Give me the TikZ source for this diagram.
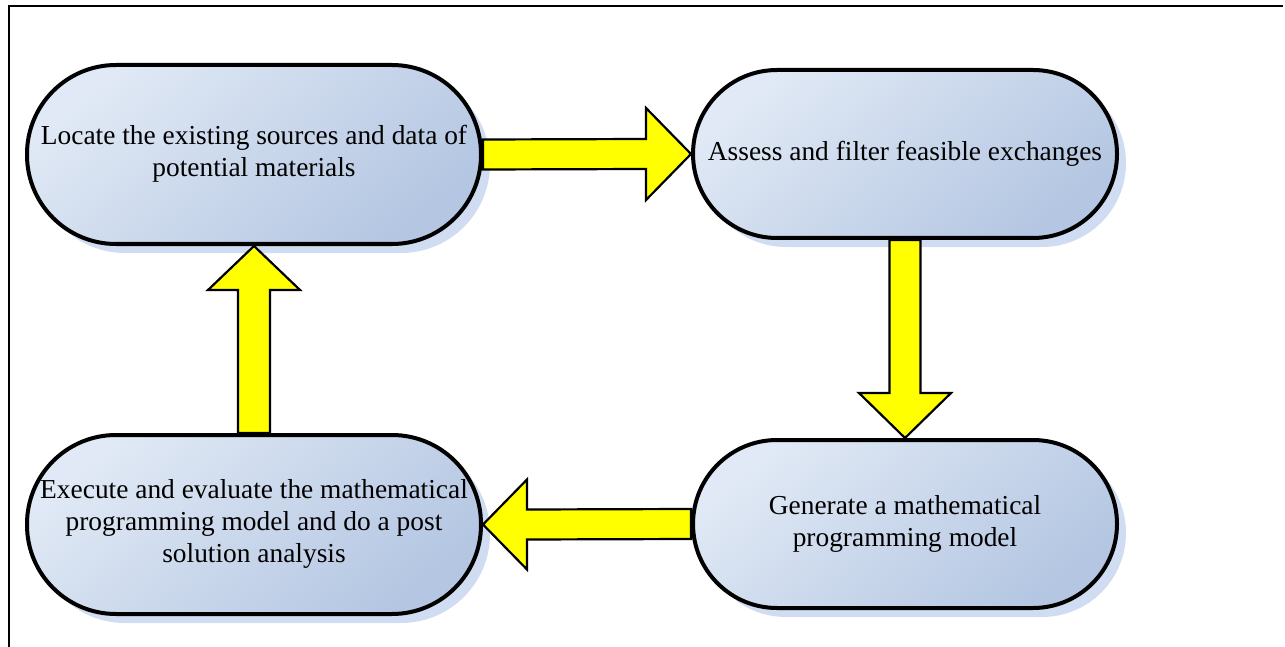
\documentclass[tikz,border=0pt]{standalone}
\usepackage{fontspec}
\setmainfont{Liberation Serif}
\usetikzlibrary{calc,shadows}
\definecolor{boxlight}{RGB}{224,233,245}
\definecolor{boxdark}{RGB}{180,198,226}
\definecolor{shadowblue}{RGB}{207,220,242}
\definecolor{arrowyellow}{RGB}{255,255,0}
\begin{document}
\begin{tikzpicture}[x=1pt,y=-1pt,
  stepbox/.style={rectangle, rounded corners=#1, draw=black, line width=4pt,
    top color=boxlight, bottom color=boxdark, shading angle=40,
    align=center, inner sep=0pt,
    font=\fontsize{27.4}{32}\selectfont,
    drop shadow={shadow xshift=9pt, shadow yshift=-9pt, fill=shadowblue, opacity=1}},
  blockarrow/.style={draw=black, line width=2.2pt, fill=arrowyellow, line join=miter}]
  \useasboundingbox (0,0) rectangle (1285,647);
  % frame: top and left rules only
  \draw[line width=2.6pt] (9,647) -- (9,6) -- (1283,6);

  \node[stepbox=89pt, minimum width=454pt, minimum height=179pt] (locate) at (254,154.5)
    {\raisebox{-2pt}{\begin{tabular}{@{}c@{}}Locate the existing sources and data of\\potential materials\end{tabular}}};
  \node[stepbox=84pt, minimum width=424pt, minimum height=168pt] (assess) at (905,154)
    {Assess and filter feasible exchanges};
  \node[stepbox=84pt, minimum width=424pt, minimum height=168pt] (generate) at (905,524)
    {\raisebox{-2pt}{\begin{tabular}{@{}c@{}}Generate a mathematical\\programming model\end{tabular}}};
  \node[stepbox=89pt, minimum width=454pt, minimum height=179pt] (execute) at (254,524.5)
    {\raisebox{-3pt}{\begin{tabular}{@{}c@{}}Execute and evaluate the mathematical\\programming model and do a post\\solution analysis\end{tabular}}};

  % locate -> assess
  \draw[blockarrow] ($(locate.east)+(0,-15)$) -- ($(assess.west)+(-45,-15)$)
    -- ($(assess.west)+(-45,-46)$) -- (assess.west) -- ($(assess.west)+(-45,46)$)
    -- ($(assess.west)+(-45,15)$) -- ($(locate.east)+(0,15)$) -- cycle;
  % assess -> generate
  \draw[blockarrow] ($(assess.south)+(-15.5,0)$) -- ($(generate.north)+(-15.5,-45)$)
    -- ($(generate.north)+(-46,-45)$) -- (generate.north) -- ($(generate.north)+(46,-45)$)
    -- ($(generate.north)+(15.5,-45)$) -- ($(assess.south)+(15.5,0)$) -- cycle;
  % generate -> execute
  \draw[blockarrow] ($(generate.west)+(0,-15)$) -- ($(execute.east)+(44,-15)$)
    -- ($(execute.east)+(44,-45)$) -- (execute.east) -- ($(execute.east)+(44,45)$)
    -- ($(execute.east)+(44,15)$) -- ($(generate.west)+(0,15)$) -- cycle;
  % execute -> locate
  \draw[blockarrow] ($(execute.north)+(-16,0)$) -- ($(locate.south)+(-16,44)$)
    -- ($(locate.south)+(-46,44)$) -- (locate.south) -- ($(locate.south)+(46,44)$)
    -- ($(locate.south)+(16,44)$) -- ($(execute.north)+(16,0)$) -- cycle;
\end{tikzpicture}
\end{document}
